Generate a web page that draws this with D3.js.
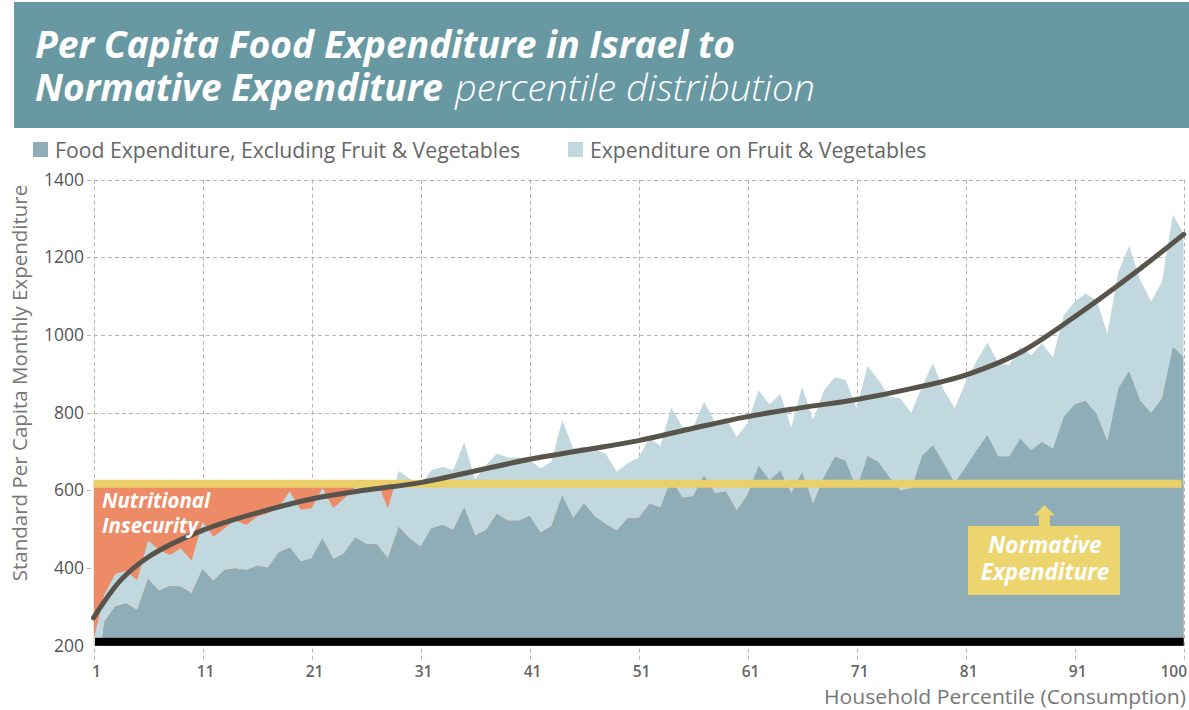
<!DOCTYPE html>
<html>
<head>
<meta charset="utf-8">
<script src="https://cdn.jsdelivr.net/npm/d3@7"></script>
<style>
  html, body { margin: 0; padding: 0; background: #fff; }
  svg { display: block; font-family: "Open Sans", sans-serif; }
</style>
</head>
<body>
<svg id="chart" width="1189" height="710"></svg>
<script>
// Per capita monthly food spending by household rank (101 points, 0..100)
const foodExclFV = [
  40, 262, 301, 309, 292, 371, 342, 354, 352, 335,
  397, 367, 395, 399, 395, 406, 401, 440, 453, 417,
  425, 477, 423, 438, 479, 462, 461, 425, 506, 476,
  455, 502, 511, 498, 556, 483, 498, 539, 522, 522,
  534, 491, 508, 586, 528, 567, 532, 513, 496, 528,
  528, 565, 556, 628, 582, 584, 640, 592, 597, 548,
  588, 665, 627, 651, 592, 648, 565, 635, 687, 677,
  605, 689, 674, 635, 600, 605, 690, 717, 670, 620,
  661, 704, 743, 688, 688, 734, 704, 725, 708, 790,
  822, 831, 798, 728, 863, 908, 833, 800, 837, 970,
  944
];
const fruitVeg = [
  175, 71, 84, 84, 77, 100, 105, 80, 99, 84,
  122, 114, 107, 125, 116, 126, 140, 118, 144, 133,
  129, 129, 131, 142, 127, 156, 164, 129, 144, 154,
  160, 150, 150, 154, 168, 146, 167, 156, 163, 163,
  144, 166, 166, 195, 180, 146, 174, 181, 152, 142,
  157, 170, 158, 186, 182, 178, 188, 185, 190, 190,
  185, 193, 195, 197, 170, 219, 216, 222, 204, 207,
  206, 231, 210, 206, 237, 195, 177, 210, 188, 191,
  218, 229, 238, 239, 235, 236, 244, 254, 234, 261,
  264, 276, 292, 276, 300, 321, 309, 286, 300, 339,
  318
];
// Smoothed trend of total food spending
const trendRank  = [0, 2.5, 5, 10, 15, 20, 25, 30, 35, 40, 45, 50, 55, 60, 65, 70, 75, 80, 85, 90, 95, 100];
const trendValue = [272, 369, 428, 497, 542, 578, 601, 620, 650, 680, 704, 728, 760, 790, 813, 834, 862, 897, 955, 1047, 1149, 1259];
const normative = 617;

const yTicks = [200, 400, 600, 800, 1000, 1200, 1400];
const xTickRanks = [0, 10, 20, 30, 40, 50, 60, 70, 80, 90, 100];
const xTickLabels = ["1", "11", "21", "31", "41", "51", "61", "71", "81", "91", "100"];
const seriesNames = ["Food Expenditure, Excluding Fruit & Vegetables", "Expenditure on Fruit & Vegetables"];

const colors = {
  banner: "#6899a3",
  food: "#8fadb6",
  fv: "#c1d9de",
  insecure: "#ec8b66",
  norm: "#ebd06a",
  normBox: "#ecd56e",
  trend: "#58544c",
  grid: "#b4b4b4",
  text: "#666"
};

const svg = d3.select("#chart");
const W = 1189, H = 710;

const x = d3.scaleLinear().domain([0, 100]).range([93.5, 1183.7]);
const y = d3.scaleLinear().domain([200, 1400]).range([645.8, 179.6]);

const rows = foodExclFV.map((v, i) => ({ rank: i, food: v, fv: fruitVeg[i] }));
const stacked = d3.stack().keys(["food", "fv"])(rows);

// ---- header banner ----
svg.append("rect").attr("x", 14).attr("y", 2).attr("width", W - 14).attr("height", 126).attr("fill", colors.banner);
svg.append("text").attr("x", 35).attr("y", 58)
  .attr("fill", "#fff").attr("font-size", 37).attr("font-weight", 700).attr("font-style", "italic")
  .attr("textLength", 700).attr("lengthAdjust", "spacingAndGlyphs")
  .text("Per Capita Food Expenditure in Israel to");
svg.append("text").attr("x", 35).attr("y", 101)
  .attr("fill", "#fff").attr("font-size", 37).attr("font-weight", 700).attr("font-style", "italic")
  .attr("textLength", 408).attr("lengthAdjust", "spacingAndGlyphs")
  .text("Normative Expenditure");
svg.append("text").attr("x", 455).attr("y", 101)
  .attr("fill", "#fff").attr("font-size", 37).attr("font-weight", 300).attr("font-style", "italic")
  .attr("textLength", 360).attr("lengthAdjust", "spacingAndGlyphs")
  .text("percentile distribution");

// ---- legend ----
const legendX = [33, 568];
seriesNames.forEach((name, i) => {
  const g = svg.append("g").attr("transform", `translate(${legendX[i]},142)`);
  g.append("rect").attr("width", 15).attr("height", 15).attr("fill", i === 0 ? colors.food : colors.fv);
  g.append("text").attr("x", 22).attr("y", 15.5).attr("font-size", 21.2).attr("fill", colors.text).text(name);
});

// ---- grid ----
const grid = svg.append("g").attr("stroke", colors.grid).attr("stroke-width", 1).attr("stroke-dasharray", "4,3").attr("fill", "none");
yTicks.filter(t => t > 200).forEach(t => {
  grid.append("line").attr("x1", 87).attr("x2", x(100)).attr("y1", Math.round(y(t)) + 0.5).attr("y2", Math.round(y(t)) + 0.5);
});
xTickRanks.forEach(r => {
  grid.append("line").attr("x1", Math.round(x(r)) + 0.5).attr("x2", Math.round(x(r)) + 0.5).attr("y1", y(1400)).attr("y2", 662);
});

// ---- plot ----
svg.append("clipPath").attr("id", "plotClip").append("rect")
  .attr("x", x(0)).attr("y", y(1400)).attr("width", x(100) - x(0)).attr("height", y(200) - y(1400));
const plot = svg.append("g").attr("clip-path", "url(#plotClip)");

// shortfall below the normative level shows through where spending is lower
plot.append("rect").attr("x", x(0)).attr("width", x(100) - x(0))
  .attr("y", y(normative)).attr("height", y(200) - y(normative)).attr("fill", colors.insecure);

const area = d3.area().x(d => x(d.data.rank)).y0(d => y(d[0])).y1(d => y(d[1]));
plot.append("path").datum(stacked[1]).attr("d", area).attr("fill", colors.fv);
plot.append("path").datum(stacked[0]).attr("d", area).attr("fill", colors.food);

// normative level
svg.append("line").attr("x1", x(0)).attr("x2", x(99.8)).attr("y1", y(normative)).attr("y2", y(normative))
  .attr("stroke", colors.norm).attr("stroke-width", 8);

// baseline bar
svg.append("rect").attr("x", 95).attr("y", y(200) - 8).attr("width", x(100) - 95).attr("height", 8).attr("fill", "#000");

// trend curve
const trendLine = d3.line().x(d => x(d[0])).y(d => y(d[1])).curve(d3.curveCatmullRom.alpha(0.5));
svg.append("path").datum(trendRank.map((r, i) => [r, trendValue[i]])).attr("d", trendLine)
  .attr("fill", "none").attr("stroke", colors.trend).attr("stroke-width", 5).attr("stroke-linecap", "round");

// ---- axes labels ----
yTicks.forEach(t => {
  svg.append("text").attr("x", 84).attr("y", y(t) + 6).attr("text-anchor", "end")
    .attr("font-size", 17.5).attr("fill", "#555").text(t);
});
xTickRanks.forEach((r, i) => {
  const last = i === xTickRanks.length - 1;
  svg.append("text").attr("x", last ? 1187 : x(r) + 3).attr("y", 677)
    .attr("text-anchor", last ? "end" : "middle")
    .attr("font-size", 15.5).attr("font-weight", 600).attr("fill", "#666").text(xTickLabels[i]);
});
svg.append("text").attr("transform", "translate(27,383) rotate(-90)").attr("text-anchor", "middle")
  .attr("font-size", 20.5).attr("fill", "#777").text("Standard Per Capita Monthly Expenditure");
svg.append("text").attr("x", 1186).attr("y", 704).attr("text-anchor", "end")
  .attr("font-size", 20).attr("fill", "#777")
  .attr("textLength", 362).attr("lengthAdjust", "spacingAndGlyphs")
  .text("Household Percentile (Consumption)");

// ---- annotations ----
const ni = svg.append("text").attr("fill", "#fff").attr("font-size", 20.5).attr("font-weight", 700).attr("font-style", "italic");
ni.append("tspan").attr("x", 102).attr("y", 508).text("Nutritional");
ni.append("tspan").attr("x", 102).attr("y", 533).text("Insecurity");

svg.append("rect").attr("x", 968).attr("y", 526).attr("width", 152).attr("height", 69).attr("fill", colors.normBox);
svg.append("path").attr("d", "M1044.5,505 L1055,515.5 L1050,515.5 L1050,526 L1039,526 L1039,515.5 L1034,515.5 Z").attr("fill", colors.normBox);
const ne = svg.append("text").attr("fill", "#fff").attr("font-size", 22.5).attr("font-weight", 700).attr("font-style", "italic").attr("text-anchor", "middle");
ne.append("tspan").attr("x", 1045).attr("y", 553).text("Normative");
ne.append("tspan").attr("x", 1045).attr("y", 580).text("Expenditure");
</script>
</body>
</html>
